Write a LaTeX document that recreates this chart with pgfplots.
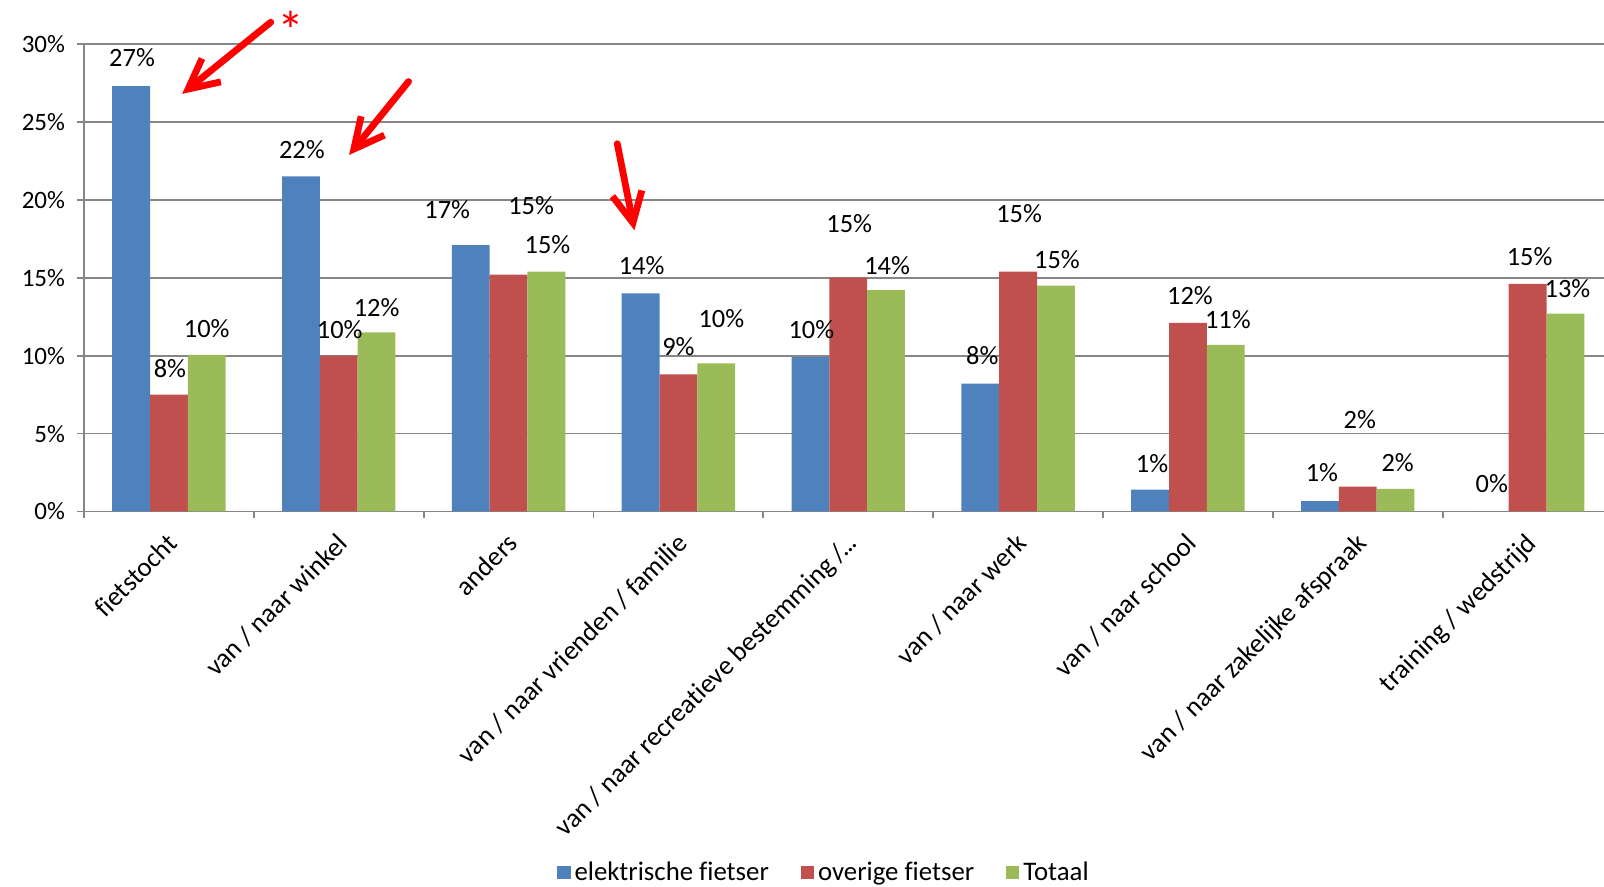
\documentclass[border=0pt]{standalone}
\usepackage{pgfplots}
\pgfplotsset{compat=1.18}
\usetikzlibrary{arrows.meta}
\usepackage{fontspec}
\setmainfont[Ligatures=NoCommon]{Carlito}
\definecolor{cblue}{RGB}{79,129,189}
\definecolor{cred}{RGB}{192,80,77}
\definecolor{cgreen}{RGB}{155,187,89}
\definecolor{cgrid}{RGB}{134,134,134}
\pgfplotstableread{
x  a    b    c
0  27.3 7.5  10.05
1  21.5 10.0 11.5
2  17.1 15.2 15.4
3  14.0 8.8  9.5
4  9.9  15.0 14.2
5  8.2  15.4 14.5
6  1.4  12.1 10.7
7  0.66 1.6  1.45
8  0.0  14.6 12.7
}\data
\begin{document}
\begin{tikzpicture}[x=1pt,y=1pt]
\useasboundingbox (0,0) rectangle (802,443.5);
\begin{axis}[
  at={(42pt,187.75pt)}, anchor=south west,
  scale only axis, width=760pt, height=233.75pt,
  ybar=0pt, bar width=18.9pt,
  xmin=-0.5, xmax=8.45, ymin=0, ymax=30,
  axis x line*=bottom, axis y line*=left,
  axis line style={cgrid, line width=0.9pt},
  ytick={0,5,...,30},
  yticklabel={\pgfmathprintnumber{\tick}\%},
  /pgf/number format/assume math mode=true,
  ymajorgrids, grid style={cgrid, line width=0.9pt},
  major tick length=3.5pt,
  ytick style={cgrid, line width=0.9pt},
  tick align=outside,
  xtick={-0.5,0.5,...,8.5},
  xticklabels={},
  extra x ticks={0,1,2,3,4,5,6,7,8},
  extra x tick style={major tick length=0pt, grid=none},
  extra x tick labels={fietstocht, van / naar winkel, anders, van / naar vrienden / familie, van / naar recreatieve bestemming /\kern-1.5pt.\kern-0.6pt.\kern-0.6pt., van / naar werk, van / naar school, van / naar zakelijke afspraak, training / wedstrijd},
  x tick label style={xshift=-1.5pt, yshift=-8.5pt, rotate=45, anchor=north east, inner sep=1pt, font=\fontsize{13.5}{15}\selectfont},
  y tick label style={font=\fontsize{12.5}{14}\selectfont, inner sep=2pt, xshift=-3.8pt},
  xtick style={cgrid, line width=0.9pt},
  legend columns=3,
  legend style={at={(axis description cs:0.4875,-0.773)}, anchor=center, draw=none, font=\fontsize{13.4}{15}\selectfont, /tikz/every even column/.append style={column sep=14pt}},
  legend image code/.code={\fill[#1] (-1.5pt,-3.3pt) rectangle (5.1pt,3.3pt);},
  clip=false,
]
\addplot[fill=cblue, draw=none] table[x=x,y=a]{\data};
\addplot[fill=cred, draw=none] table[x=x,y=b]{\data};
\addplot[fill=cgreen, draw=none] table[x=x,y=c]{\data};
\legend{elektrische fietser, overige fietser, Totaal}
\begin{scope}[every node/.style={font=\fontsize{13.2}{15}\selectfont, inner sep=0pt}]
\node at (axis cs:-0.217,29.1) {27\%};
\node at (axis cs:0.006,9.2) {8\%};
\node at (axis cs:0.223,11.75) {10\%};
\node at (axis cs:0.783,23.2) {22\%};
\node at (axis cs:1.006,11.7) {10\%};
\node at (axis cs:1.223,13.1) {12\%};
\node at (axis cs:1.639,19.4) {17\%};
\node at (axis cs:2.133,19.6) {15\%};
\node at (axis cs:2.229,17.1) {15\%};
\node at (axis cs:2.783,15.8) {14\%};
\node at (axis cs:3.0,10.6) {9\%};
\node at (axis cs:3.253,12.4) {10\%};
\node at (axis cs:3.783,11.7) {10\%};
\node at (axis cs:4.006,18.5) {15\%};
\node at (axis cs:4.229,15.8) {14\%};
\node at (axis cs:4.789,10.0) {8\%};
\node at (axis cs:5.006,19.1) {15\%};
\node at (axis cs:5.229,16.15) {15\%};
\node at (axis cs:5.789,3.1) {1\%};
\node at (axis cs:6.012,13.85) {12\%};
\node at (axis cs:6.235,12.3) {11\%};
\node at (axis cs:6.789,2.5) {1\%};
\node at (axis cs:7.012,5.9) {2\%};
\node at (axis cs:7.235,3.15) {2\%};
\node at (axis cs:7.789,1.8) {0\%};
\node at (axis cs:8.012,16.35) {15\%};
\node at (axis cs:8.235,14.3) {13\%};
\end{scope}
\begin{scope}[red, line width=3.4pt, line cap=round]
\draw[-{Straight Barb[length=15pt,width=15pt,line width=3.4pt]}] (axis cs:0.60,31.4) -- (axis cs:0.078,26.8);
\node[font=\fontsize{27}{27}\selectfont, text=red, inner sep=0pt] at (axis cs:0.72,30.9) {*};
\draw[-{Straight Barb[length=15pt,width=15pt,line width=3.4pt]}] (axis cs:1.411,27.59) -- (axis cs:1.061,22.88);
\draw[-{Straight Barb[length=15pt,width=15pt,line width=3.4pt]}] (axis cs:2.64,23.6) -- (axis cs:2.741,18.05);
\end{scope}
\end{axis}
\end{tikzpicture}
\end{document}
